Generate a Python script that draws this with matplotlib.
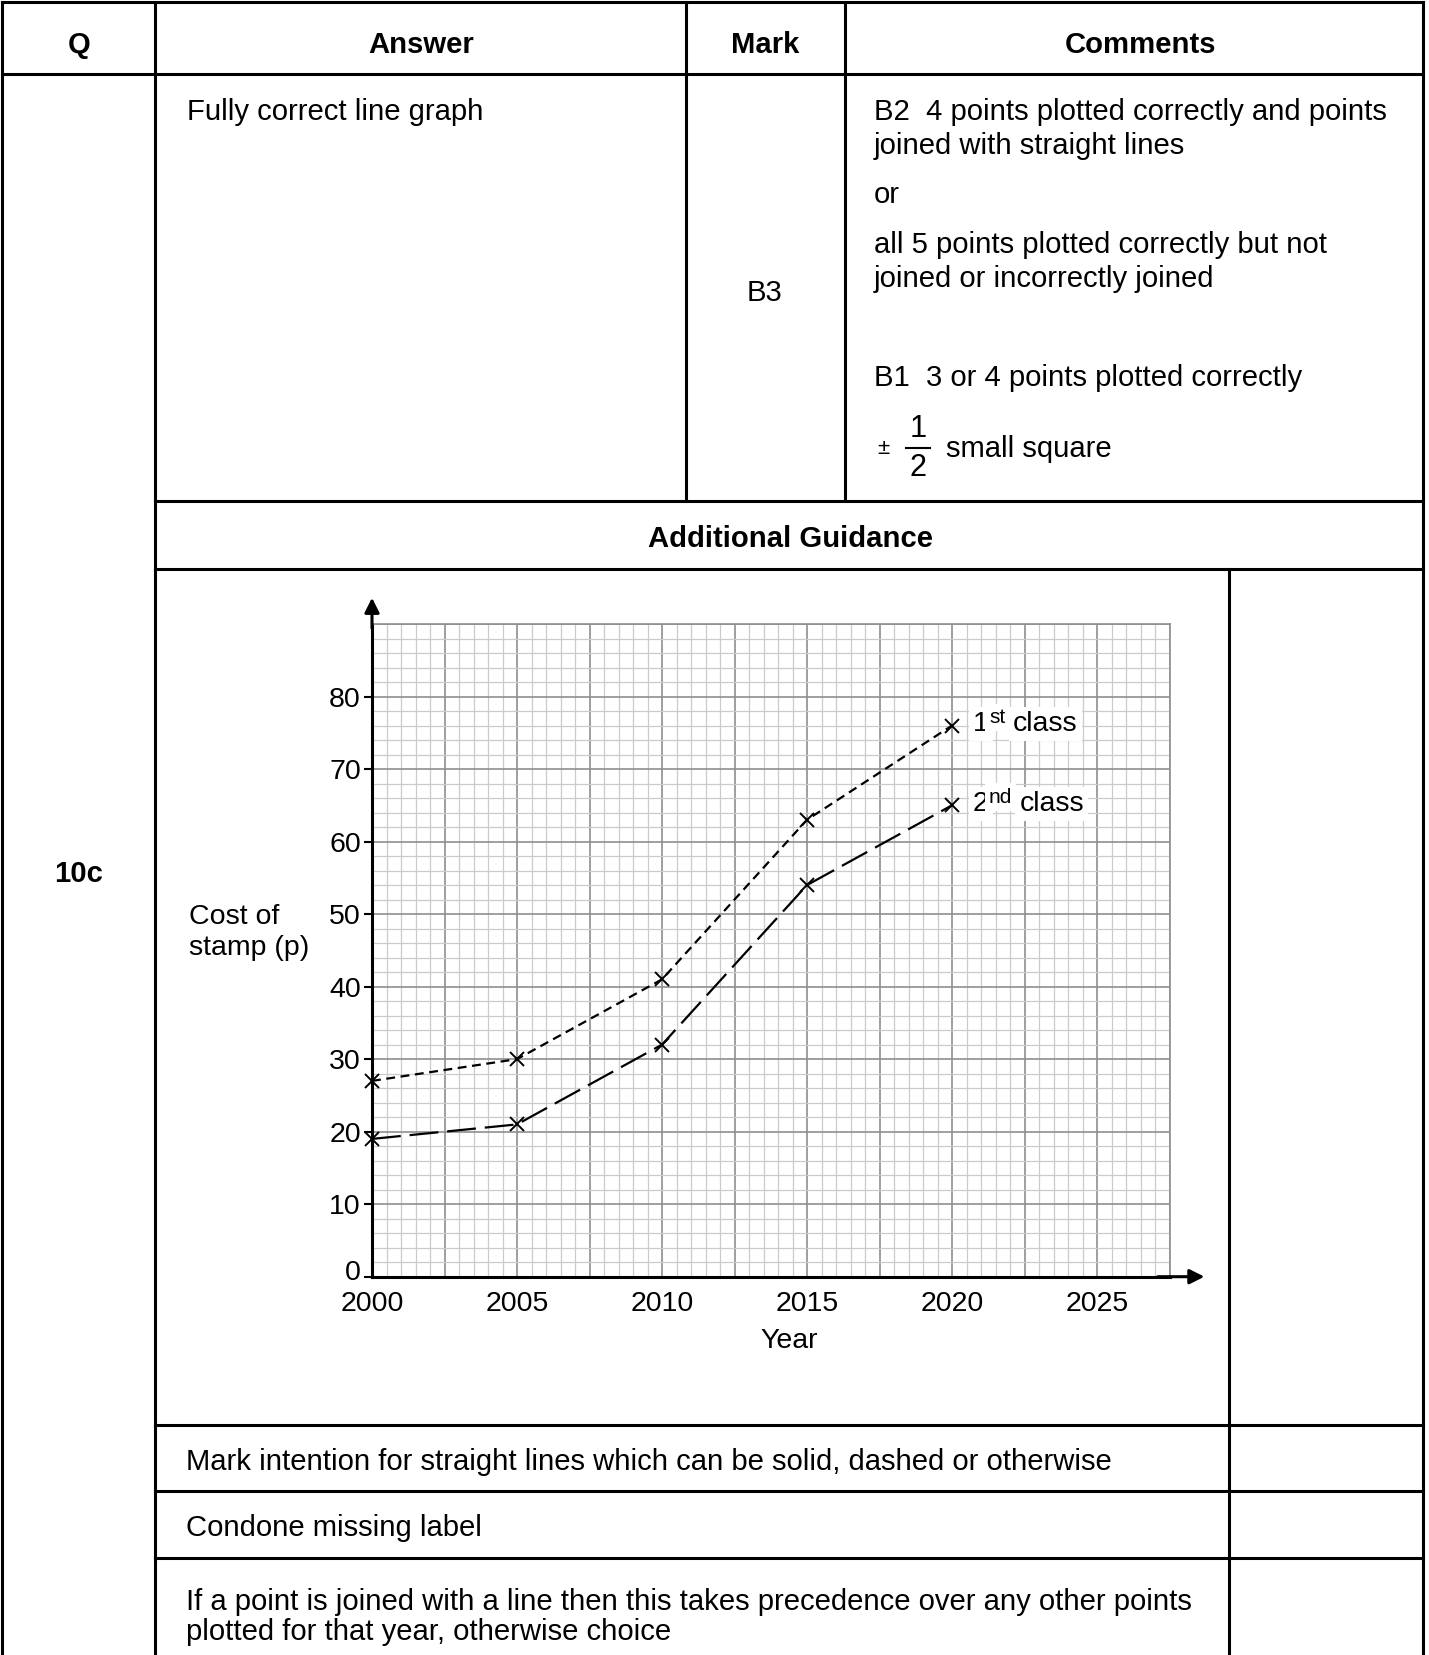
import matplotlib.pyplot as plt
from matplotlib.ticker import MultipleLocator
from matplotlib.transforms import ScaledTranslation

plt.rcParams['font.family'] = ['Liberation Sans', 'DejaVu Sans']

# data
years = [2000, 2005, 2010, 2015, 2020]
first_class = [27, 30, 41, 63, 76]
second_class = [19, 21, 32, 54, 65]
year_ticks = [2000, 2005, 2010, 2015, 2020, 2025]
cost_ticks = [0, 10, 20, 30, 40, 50, 60, 70, 80]

W, H = 1429, 1655
fig = plt.figure(figsize=(W / 100, H / 100), dpi=100)

# table drawn in pixel coordinates
bg = fig.add_axes([0, 0, 1, 1])
bg.set_xlim(0, W)
bg.set_ylim(H, 0)
bg.axis('off')

lw = 2.2
def hline(y, x0, x1):
    bg.plot([x0, x1], [y, y], color='black', lw=lw, solid_capstyle='projecting')
def vline(x, y0, y1):
    bg.plot([x, x], [y0, y1], color='black', lw=lw, solid_capstyle='projecting')

hline(2, 2, 1423)
vline(2, 2, H)
vline(1423, 2, H)
vline(155, 2, H)
vline(686, 2, 501)
vline(845, 2, 501)
hline(74, 2, 1423)
hline(501, 155, 1423)
hline(569, 155, 1423)
vline(1229, 569, H)
for y in [1425, 1491, 1558]:
    hline(y, 155, 1423)

fs = 21.1
# header
for x, s in [(79, 'Q'), (421, 'Answer'), (765, 'Mark'), (1141, 'Comments')]:
    bg.text(x, 45, s, ha='center', va='center', fontsize=fs, fontweight='bold')

bg.text(187, 112, 'Fully correct line graph', ha='left', va='center', fontsize=fs)
bg.text(765, 293, 'B3', ha='center', va='center', fontsize=fs)

comments = [
    (112, 'B2  4 points plotted correctly and points'),
    (146, 'joined with straight lines'),
    (195, 'or'),
    (245, 'all 5 points plotted correctly but not'),
    (279, 'joined or incorrectly joined'),
    (378, 'B1  3 or 4 points plotted correctly'),
]
for y, s in comments:
    bg.text(874, y, s, ha='left', va='center', fontsize=fs)

# plus/minus half a small square
bg.text(883, 449, '±', ha='center', va='center', fontsize=16)
bg.text(918, 429, '1', ha='center', va='center', fontsize=fs + 1)
bg.text(918, 468, '2', ha='center', va='center', fontsize=fs + 1)
bg.plot([906, 930], [448, 448], color='black', lw=1.5)
bg.text(946, 449, 'small square', ha='left', va='center', fontsize=fs)

bg.text(79, 874, '10c', ha='center', va='center', fontsize=fs, fontweight='bold')
bg.text(791, 539, 'Additional Guidance', ha='center', va='center',
        fontsize=fs, fontweight='bold')

bg.text(189, 917, 'Cost of', ha='left', va='center', fontsize=20.5)
bg.text(189, 948, 'stamp (p)', ha='left', va='center', fontsize=20.5)
bg.text(789, 1341, 'Year', ha='center', va='center', fontsize=20.5)

bg.text(186, 1462, 'Mark intention for straight lines which can be solid, dashed or otherwise',
        ha='left', va='center', fontsize=fs)
bg.text(186, 1528, 'Condone missing label', ha='left', va='center', fontsize=fs)
bg.text(186, 1602, 'If a point is joined with a line then this takes precedence over any other points',
        ha='left', va='center', fontsize=fs)
bg.text(186, 1632, 'plotted for that year, otherwise choice', ha='left', va='center', fontsize=fs)

# the graph paper chart
x0, x1 = 372, 1169.5
y0, y1 = 1276.7, 624
ax = fig.add_axes([x0 / W, (H - y0) / H, (x1 - x0) / W, (y0 - y1) / H])
ax.set_xlim(2000, 2027.5)
ax.set_ylim(0, 90)

ax.xaxis.set_major_locator(MultipleLocator(2.5))
ax.xaxis.set_minor_locator(MultipleLocator(0.5))
ax.yaxis.set_major_locator(MultipleLocator(10))
ax.yaxis.set_minor_locator(MultipleLocator(2))
ax.grid(which='minor', color='#cbcbcb', lw=0.9)
ax.grid(which='major', color='#8f8f8f', lw=1.2)
ax.set_axisbelow(True)
ax.tick_params(which='both', length=0, labelbottom=False, labelleft=False)

for side in ['top', 'right']:
    ax.spines[side].set_color('#8f8f8f')
    ax.spines[side].set_linewidth(1.2)
for side in ['left', 'bottom']:
    ax.spines[side].set_color('black')
    ax.spines[side].set_linewidth(2.2)

# axis arrows
ax.annotate('', xy=(2000, 94), xytext=(2000, 89), annotation_clip=False,
            arrowprops=dict(arrowstyle='-|>', color='black', lw=2.2, mutation_scale=22))
ax.annotate('', xy=(2028.8, 0), xytext=(2027, 0), annotation_clip=False,
            arrowprops=dict(arrowstyle='-|>', color='black', lw=2.2, mutation_scale=22))

# tick labels on secondary axes so the grid stays clean
tx = ax.secondary_xaxis('bottom')
tx.set_xticks(year_ticks)
tx.tick_params(length=0, pad=10, labelsize=20.5)
tx.spines['bottom'].set_visible(False)
ty = ax.secondary_yaxis('left')
ty.set_yticks(cost_ticks, labels=[str(c) for c in cost_ticks])
ty.tick_params(length=6, width=1.5, pad=2, labelsize=20.5)
ty.spines['left'].set_visible(False)
zero = ty.get_yticklabels()[0]
zero.set_transform(zero.get_transform() + ScaledTranslation(0, 5 / 72, fig.dpi_scale_trans))

ax.plot(years, first_class, color='black', lw=1.6, linestyle=(0, (4, 2.5)),
        marker='x', markersize=10, markeredgewidth=1.4, clip_on=False)
ax.plot(years, second_class, color='black', lw=1.6, linestyle=(0, (13, 4)),
        marker='x', markersize=10, markeredgewidth=1.4, clip_on=False)

# line labels with superscripts
box = dict(facecolor='white', edgecolor='none', pad=3)
def line_label(y, num, sup, sup_w, class_x):
    xy = (years[-1], y)
    ax.annotate(num, xy=xy, xytext=(15, -4), textcoords='offset points',
                ha='left', va='baseline', fontsize=20.5, bbox=box)
    ax.annotate(sup, xy=xy, xytext=(26.6, 2), textcoords='offset points',
                ha='left', va='baseline', fontsize=15, bbox=box)
    ax.annotate('class', xy=xy, xytext=(class_x, -4), textcoords='offset points',
                ha='left', va='baseline', fontsize=20.5, bbox=box)

line_label(first_class[-1], '1', 'st', 11.7, 44)
line_label(second_class[-1], '2', 'nd', 16.7, 48.5)

fig.savefig('out.png', dpi=100)
